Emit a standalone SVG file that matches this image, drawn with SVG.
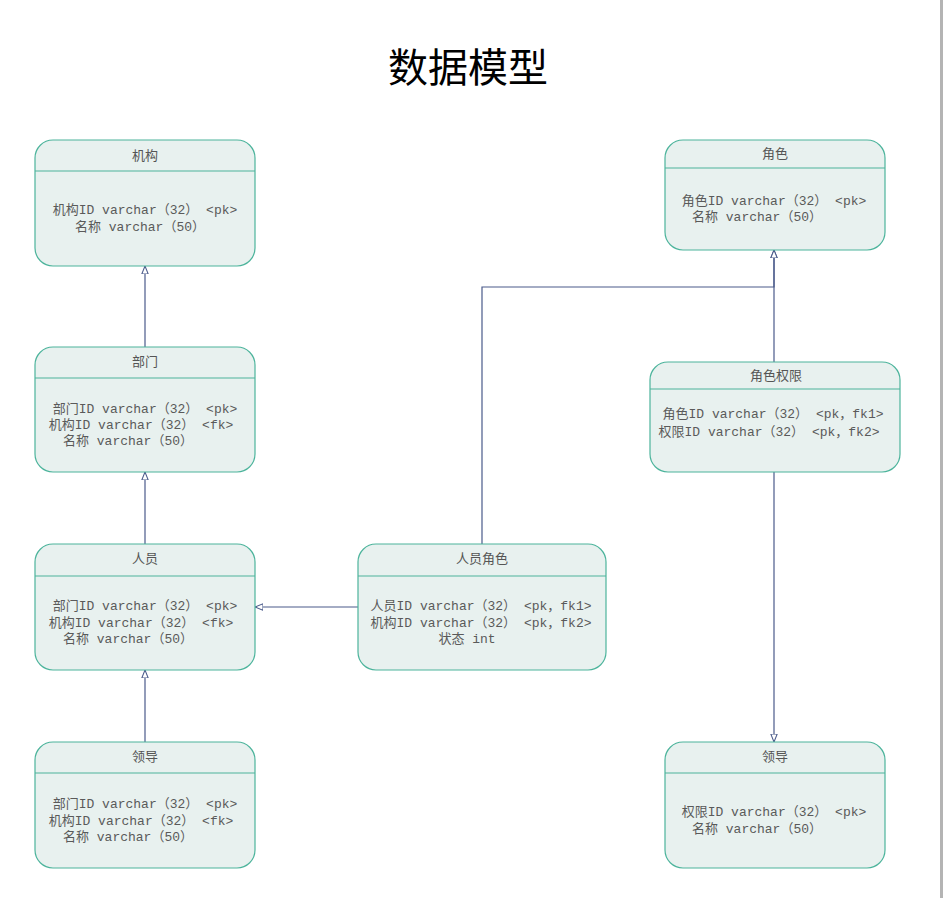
<svg xmlns="http://www.w3.org/2000/svg" width="943" height="898" viewBox="0 0 943 898">
<style>
.box{fill:#e8f1ef;stroke:#4db49c;stroke-width:1.2}
.sep{stroke:#4db49c;stroke-width:1.2}
.t{font-family:"Liberation Mono","Noto Sans CJK SC",monospace;font-size:13px;fill:#5a5a5a;text-anchor:middle}
.h{font-family:"Liberation Mono","Noto Sans CJK SC",monospace;font-size:13px;fill:#555;text-anchor:middle}
.c{fill:none;stroke:#4a5a8a;stroke-width:1.2}
.title{font-family:"Noto Sans CJK SC",sans-serif;font-size:40px;fill:#000;text-anchor:middle}
</style>
<defs>
<marker id="tri" viewBox="0 0 10 10" refX="10" refY="5" markerWidth="8" markerHeight="8" markerUnits="userSpaceOnUse" orient="auto">
<path d="M0,1 L10,5 L0,9 Z" fill="#fff" stroke="#4a5a8a" stroke-width="1.3"/>
</marker>
</defs>
<rect x="0" y="0" width="943" height="898" fill="#fff"/>
<rect x="940" y="0" width="3" height="898" fill="#b4b4b4"/>
<text class="title" x="468" y="82">数据模型</text>

<g id="connectors">
<path class="c" d="M145,347 V266" marker-end="url(#tri)"/>
<path class="c" d="M145,544 V472" marker-end="url(#tri)"/>
<path class="c" d="M145,742 V670" marker-end="url(#tri)"/>
<path class="c" d="M358,607 H255" marker-end="url(#tri)"/>
<path class="c" d="M482,544 V287 H774 V250" marker-end="url(#tri)"/>
<path class="c" d="M774,362 V250" marker-end="url(#tri)"/>
<path class="c" d="M774,472 V742" marker-end="url(#tri)"/>
</g>

<g id="jigou">
<rect class="box" x="35" y="140" width="220" height="126" rx="18"/>
<line class="sep" x1="35" y1="171" x2="255" y2="171"/>
<text class="h" x="145" y="160">机构</text>
<text class="t" x="145" y="214">机构ID varchar（32） &lt;pk&gt;</text>
<text class="t" x="140" y="231">名称 varchar（50）</text>
</g>

<g id="bumen">
<rect class="box" x="35" y="347" width="220" height="125" rx="18"/>
<line class="sep" x1="35" y1="378" x2="255" y2="378"/>
<text class="h" x="145" y="366">部门</text>
<text class="t" x="145" y="413">部门ID varchar（32） &lt;pk&gt;</text>
<text class="t" x="141" y="429">机构ID varchar（32） &lt;fk&gt;</text>
<text class="t" x="128" y="445">名称 varchar（50）</text>
</g>

<g id="renyuan">
<rect class="box" x="35" y="544" width="220" height="126" rx="18"/>
<line class="sep" x1="35" y1="576" x2="255" y2="576"/>
<text class="h" x="145" y="563">人员</text>
<text class="t" x="145" y="610">部门ID varchar（32） &lt;pk&gt;</text>
<text class="t" x="141" y="627">机构ID varchar（32） &lt;fk&gt;</text>
<text class="t" x="128" y="643">名称 varchar（50）</text>
</g>

<g id="lingdao1">
<rect class="box" x="35" y="742" width="220" height="126" rx="18"/>
<line class="sep" x1="35" y1="773" x2="255" y2="773"/>
<text class="h" x="145" y="761">领导</text>
<text class="t" x="145" y="808">部门ID varchar（32） &lt;pk&gt;</text>
<text class="t" x="141" y="825">机构ID varchar（32） &lt;fk&gt;</text>
<text class="t" x="128" y="841">名称 varchar（50）</text>
</g>

<g id="renyuanjuese">
<rect class="box" x="358" y="544" width="248" height="126" rx="18"/>
<line class="sep" x1="358" y1="576" x2="606" y2="576"/>
<text class="h" x="482" y="563">人员角色</text>
<text class="t" x="481" y="610">人员ID varchar（32） &lt;pk，fk1&gt;</text>
<text class="t" x="481" y="627">机构ID varchar（32） &lt;pk，fk2&gt;</text>
<text class="t" x="467" y="643">状态 int</text>
</g>

<g id="juese">
<rect class="box" x="665" y="140" width="220" height="110" rx="18"/>
<line class="sep" x1="665" y1="168" x2="885" y2="168"/>
<text class="h" x="775" y="158">角色</text>
<text class="t" x="774" y="205">角色ID varchar（32） &lt;pk&gt;</text>
<text class="t" x="757" y="221">名称 varchar（50）</text>
</g>

<g id="jueseqx">
<rect class="box" x="650" y="362" width="250" height="110" rx="18"/>
<line class="sep" x1="650" y1="389" x2="900" y2="389"/>
<text class="h" x="776" y="380">角色权限</text>
<text class="t" x="773" y="418">角色ID varchar（32） &lt;pk，fk1&gt;</text>
<text class="t" x="769" y="436">权限ID varchar（32） &lt;pk，fk2&gt;</text>
</g>

<g id="lingdao2">
<rect class="box" x="665" y="742" width="220" height="126" rx="18"/>
<line class="sep" x1="665" y1="773" x2="885" y2="773"/>
<text class="h" x="775" y="761">领导</text>
<text class="t" x="774" y="816">权限ID varchar（32） &lt;pk&gt;</text>
<text class="t" x="757" y="833">名称 varchar（50）</text>
</g>
</svg>
